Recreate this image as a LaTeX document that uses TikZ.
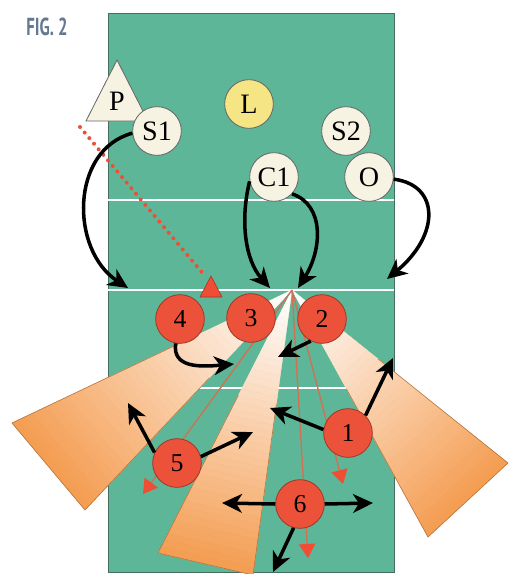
\documentclass[tikz,border=0pt]{standalone}
\usepackage{fontspec}
\setmainfont{Liberation Serif}
\newfontfamily\figfont{PT Sans}
\usetikzlibrary{calc, arrows.meta}

\definecolor{court}{RGB}{94,182,152}
\definecolor{courtedge}{RGB}{70,110,95}
\definecolor{redpl}{RGB}{236,82,58}
\definecolor{rededge}{RGB}{160,55,40}
\definecolor{cream}{RGB}{246,243,226}
\definecolor{libero}{RGB}{246,229,132}
\definecolor{fanorange}{RGB}{244,156,80}
\definecolor{runred}{RGB}{205,115,85}
\definecolor{tipred}{RGB}{240,78,52}
\definecolor{figgray}{RGB}{100,120,145}

\begin{document}
\begin{tikzpicture}[x=0.03cm, y=-0.03cm,
  redpl/.style={circle, draw=rededge, fill=redpl, line width=0.7pt, minimum size=1.46cm, inner sep=0pt, font=\fontsize{22}{22}\selectfont},
  whitepl/.style={redpl, draw=black!60, fill=cream, font=\fontsize{24}{24}\selectfont},
  blackmove/.style={line width=3pt, -{Stealth[length=17pt, width=16pt, inset=5pt]}},
  redrun/.style={runred, line width=1.2pt, -{Triangle[length=12pt, width=14pt, color=tipred]}},
  fanline/.style={fanorange!75!black, line width=0.5pt}]
  \useasboundingbox (0,0) rectangle (509,574);
  \node[font=\figfont\bfseries\fontsize{21}{21}\selectfont, text=figgray] (fig) at (47,27) {\scalebox{0.68}[1]{FIG. 2}};
  % court
  \fill[court] (108,13) rectangle (394,572);
  \draw[courtedge, line width=0.6pt] (108,13) rectangle (394,572);
  \foreach \y in {200,290,388}
    \draw[white, line width=2.5pt] (108,\y) -- (394,\y);
  % fans
  \coordinate (ball) at (292,290);
  \coordinate (fa1) at (12,423);
  \coordinate (fa2) at (85,510);
  \coordinate (fb1) at (158,553);
  \coordinate (fb2) at (253,575);
  \coordinate (fc1) at (508,463);
  \coordinate (fc2) at (428,537);
  \foreach \fa/\fb in {fa1/fa2, fb1/fb2, fc1/fc2} {
    \foreach \i in {0,...,39} {
      \pgfmathsetmacro\ta{\i/40}
      \pgfmathsetmacro\tb{(\i+1)/40}
      \pgfmathtruncatemacro\pc{100*((\i+0.5)/40)^1.05}
      \filldraw[fill=fanorange!\pc!white, draw=fanorange!\pc!white, line width=0.3pt]
        ($(ball)!\ta!(\fa)$) -- ($(ball)!\tb!(\fa)$) -- ($(ball)!\tb!(\fb)$) -- ($(ball)!\ta!(\fb)$) -- cycle;
    }
    \draw[fanline] ($(ball)!0.4!(\fa)$) -- (\fa) -- (\fb) -- ($(ball)!0.4!(\fb)$);
  }
  % red runs
  \coordinate (r5) at (143,494);
  \coordinate (r6) at (308,558);
  \coordinate (r1) at (343,484);
  \draw[redrun] (ball) -- (r5);
  \draw[redrun] (ball) -- (r6);
  \draw[redrun] (ball) -- (r1);
  % pass target
  \coordinate (pstart) at (80,127);
  \coordinate (tgt) at (205,276);
  \draw[tipred, line width=3.4pt, line cap=round, dash pattern=on 0pt off 6.2pt] (pstart) -- (tgt);
  \filldraw[fill=tipred, draw=rededge, line width=0.5pt] (211,276) -- (222,297) -- (200,297) -- cycle;
  % P triangle
  \filldraw[fill=cream, draw=black!60, line width=0.7pt] (117,60) -- (148,121) -- (86,121) -- cycle;
  \node[font=\fontsize{24}{24}\selectfont] (p) at (117,101) {P};
  % players
  \node[whitepl] (s1) at (157,131) {S1};
  \node[whitepl, fill=libero] (lib) at (249,104) {L};
  \node[whitepl] (s2) at (346,131) {S2};
  \node[whitepl] (c1) at (274,177) {C1};
  \node[whitepl] (o) at (369,177) {O};
  \node[redpl] (n4) at (180,319) {4};
  \node[redpl] (n3) at (251,318) {3};
  \node[redpl] (n2) at (322,319) {2};
  \node[redpl] (n1) at (348,433) {1};
  \node[redpl] (n5) at (177,463) {5};
  \node[redpl] (n6) at (300,504) {6};
  % movements
  \coordinate (ts1) at (128,288);
  \coordinate (tc1a) at (270,288);
  \coordinate (tc1b) at (298,288);
  \coordinate (to) at (387,279);
  \coordinate (t4) at (234,364);
  \coordinate (t2) at (278,357);
  \coordinate (t1a) at (393,358);
  \coordinate (t1b) at (270,408);
  \coordinate (t5a) at (128,403);
  \coordinate (t5b) at (253,432);
  \coordinate (t6a) at (373,503);
  \coordinate (t6b) at (222,503);
  \coordinate (t6c) at (273,572);
  \draw[blackmove] (s1.185) .. controls (70,150) and (70,250) .. (ts1);
  \draw[blackmove] (c1.190) .. controls (240,220) and (245,260) .. (tc1a);
  \draw[blackmove] (c1.317) .. controls (325,205) and (322,250) .. (tc1b);
  \draw[blackmove] (o.355) .. controls (440,185) and (440,235) .. (to);
  \draw[blackmove] (n4.260) .. controls (172,368) and (200,367) .. (t4);
  \draw[blackmove] (n2.243) -- (t2);
  \draw[blackmove] (n1.45) -- (t1a);
  \draw[blackmove] (n1.172) -- (t1b);
  \draw[blackmove] (n5.155) -- (t5a);
  \draw[blackmove] (n5.15) -- (t5b);
  \draw[blackmove] (n6.east) -- (t6a);
  \draw[blackmove] (n6.west) -- (t6b);
  \draw[blackmove] (n6.255) -- (t6c);
\end{tikzpicture}
\end{document}
